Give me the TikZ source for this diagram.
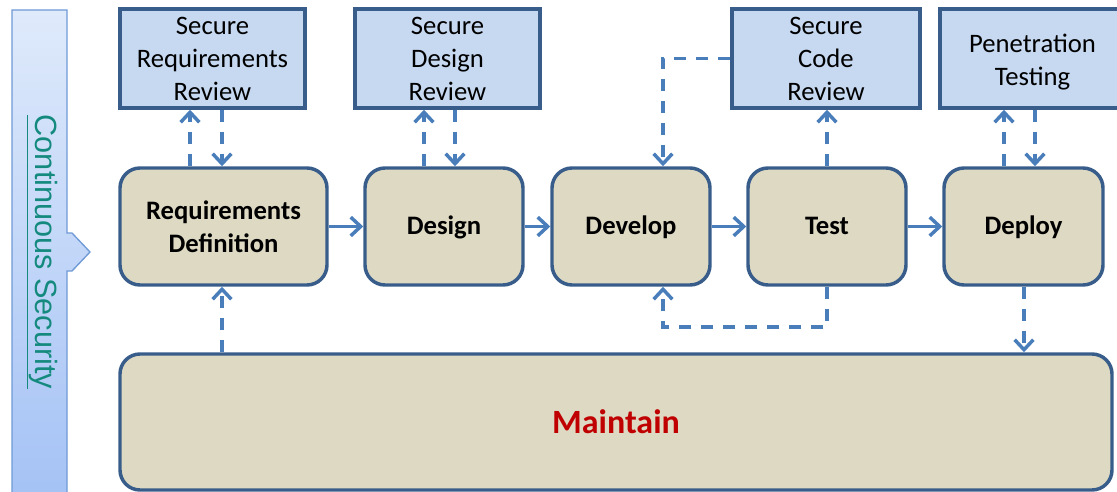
\documentclass[tikz,border=0pt]{standalone}
\usepackage{fontspec}
\setmainfont{Carlito}
\newfontfamily\arialfont{Liberation Sans}
\usetikzlibrary{arrows.meta}
\definecolor{arrowblue}{RGB}{74,126,187}
\definecolor{boxedge}{RGB}{56,93,138}
\definecolor{reviewfill}{RGB}{198,217,241}
\definecolor{tanfill}{RGB}{221,217,195}
\definecolor{darkred}{RGB}{192,0,0}
\definecolor{tealtext}{RGB}{20,138,126}
\definecolor{bartop}{RGB}{223,234,251}
\definecolor{barbottom}{RGB}{164,194,245}
\definecolor{baredge}{RGB}{111,154,214}
\tikzset{
  reviewbox/.style={draw=boxedge, line width=2.6pt, fill=reviewfill, rectangle,
    inner sep=0pt, align=center, font=\fontsize{20}{24.75}\selectfont,
    minimum height=99*0.75pt},
  procbox/.style={draw=boxedge, line width=2.6pt, fill=tanfill, rectangle,
    rounded corners=15pt, inner sep=0pt, align=center,
    font=\bfseries\fontsize{20}{24.75}\selectfont, minimum height=117*0.75pt},
  oneline/.style={text height=16pt, text depth=4pt},
  flow/.style={draw=arrowblue, line width=2.6pt,
    -{Straight Barb[length=7.5pt,width=14pt,line width=2.6pt]}},
  dflow/.style={flow, dash pattern=on 9pt off 7.5pt}
}
\begin{document}
\begin{tikzpicture}[x=0.75pt,y=-0.75pt]
\path[use as bounding box] (0,0) rectangle (1117,492);
\clip (0,0) rectangle (1117,492);

% left bar with arrow
\path[draw=baredge, line width=1pt, top color=bartop, bottom color=barbottom]
  (12,10) -- (67,10) -- (67,233) -- (72,233) -- (90,252) -- (72,271) -- (67,271)
  -- (67,500) -- (12,500) -- cycle;
\node[rotate=-90, text=tealtext, font=\arialfont\fontsize{23}{27}\selectfont,
  inner sep=0pt] (cs) at (42,252) {\underline{Continuous Security}};

% review boxes
\node[reviewbox, minimum width=185*0.75pt] (srr) at (212.5,58.5) {Secure\\Requirements\\Review};
\node[reviewbox, minimum width=185*0.75pt] (sdr) at (447.5,58.5) {Secure\\Design\\Review};
\node[reviewbox, minimum width=188*0.75pt] (scr) at (826,58.5) {Secure\\Code\\Review};
\node[reviewbox, minimum width=185*0.75pt] (pt) at (1032.5,58.5) {};
\node[align=center, inner sep=0pt, font=\fontsize{20}{24.75}\selectfont]
  (pttext) at ([yshift=-3pt]pt.center) {Penetration\\Testing};

% process boxes
\node[procbox, minimum width=207*0.75pt] (rd) at (223.5,226.5) {Requirements\\Definition};
\node[procbox, oneline, minimum width=158*0.75pt] (des) at (444,226.5) {Design};
\node[procbox, oneline, minimum width=158*0.75pt] (dev) at (631,226.5) {Develop};
\node[procbox, oneline, minimum width=158*0.75pt] (tst) at (827,226.5) {Test};
\node[procbox, oneline, minimum width=159*0.75pt] (dep) at (1023.5,226.5) {Deploy};
\node[procbox, minimum width=992*0.75pt, minimum height=136*0.75pt,
  text=darkred, font=\bfseries\fontsize{25.5}{30}\selectfont] (mnt) at (616,422) {Maintain};

% solid flow
\draw[flow] (rd.east) -- (des.west);
\draw[flow] (des.east) -- (dev.west);
\draw[flow] (dev.east) -- (tst.west);
\draw[flow] (tst.east) -- (dep.west);

% helper coordinates
\coordinate (xa) at (190,0);
\coordinate (xb) at (222,0);
\coordinate (xc) at (424,0);
\coordinate (xd) at (455,0);
\coordinate (xe) at (663,0);
\coordinate (xf) at (1004,0);
\coordinate (xg) at (1035,0);
\coordinate (xh) at (1024,0);
\coordinate (loop) at (663,327);

% dashed review links
\draw[dflow] (rd.north -| xa) -- (srr.south -| xa);
\draw[dflow] (srr.south -| xb) -- (rd.north -| xb);
\draw[dflow] (des.north -| xc) -- (sdr.south -| xc);
\draw[dflow] (sdr.south -| xd) -- (des.north -| xd);
\draw[dflow] (scr.west) -- (scr.west -| xe) -- (dev.north -| xe);
\draw[dflow] (tst.north) -- (scr.south -| tst.north);
\draw[dflow] (tst.south) -- (loop -| tst.south) -- (loop) -- (dev.south -| loop);
\draw[dflow] (dep.north -| xf) -- (pt.south -| xf);
\draw[dflow] (pt.south -| xg) -- (dep.north -| xg);
\draw[dflow] (dep.south -| xh) -- (mnt.north -| xh);
\draw[dflow] (mnt.north -| xb) -- (rd.south -| xb);
\end{tikzpicture}
\end{document}
